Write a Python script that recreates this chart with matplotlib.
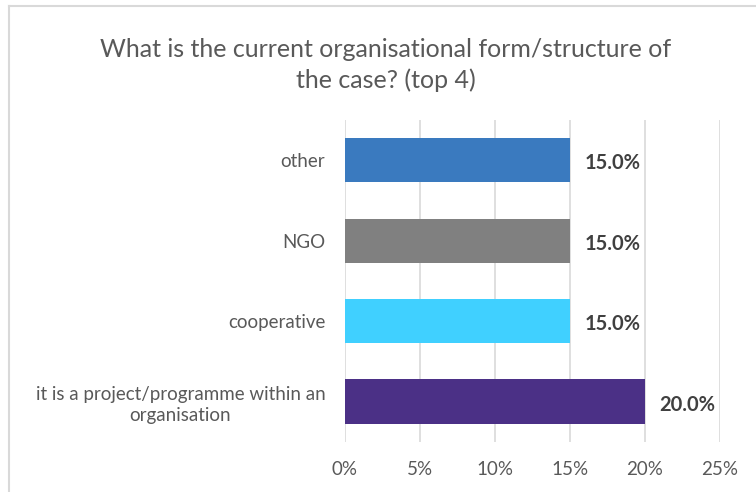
import matplotlib.pyplot as plt
from matplotlib.lines import Line2D
from matplotlib.ticker import FuncFormatter

plt.rcParams['font.family'] = ['Lato', 'DejaVu Sans']

# data, bottom-up as drawn
categories = ['it is a project/programme within an\norganisation', 'cooperative', 'NGO', 'other']
shares = [20.0, 15.0, 15.0, 15.0]
bar_colors = ['#4B3086', '#40D0FF', '#808080', '#3A7ABF']
x_ticks = [0, 5, 10, 15, 20, 25]

title_text = 'What is the current organisational form/structure of\nthe case? (top 4)'

fig = plt.figure(figsize=(7.56, 4.92), dpi=100)
ax = fig.add_axes([0.456, 0.102, 0.496, 0.654])

ypos = range(len(categories))
ax.barh(ypos, shares, height=0.55, color=bar_colors, zorder=3)

for y, v in zip(ypos, shares):
    ax.text(v + 1.0, y - 0.04, f'{v:.1f}%', va='center', ha='left',
            fontsize=14.5, fontweight='bold', color='#404040')

ax.set_xlim(0, 25)
ax.set_ylim(-0.5, len(categories) - 0.5)
ax.set_xticks(x_ticks)
ax.xaxis.set_major_formatter(FuncFormatter(lambda v, _: f'{v:.0f}%'))
ax.set_yticks(list(ypos))
ax.set_yticklabels(categories, multialignment='center', linespacing=1.3)
ax.tick_params(axis='both', length=0, labelsize=13.5, labelcolor='#595959')
ax.tick_params(axis='y', pad=14)
ax.tick_params(axis='x', pad=14)
ax.grid(axis='x', color='#D9D9D9', linewidth=1.2, zorder=0)
for s in ax.spines.values():
    s.set_visible(False)

fig.text(0.51, 0.868, title_text, ha='center', va='center', fontsize=18,
         color='#595959', linespacing=1.35)

# chart border (left and top visible)
fig.add_artist(Line2D([0.012, 0.012], [0.0, 0.988], color='#D9D9D9', linewidth=1.5,
                      transform=fig.transFigure))
fig.add_artist(Line2D([0.012, 1.0], [0.988, 0.988], color='#D9D9D9', linewidth=1.5,
                      transform=fig.transFigure))

fig.savefig('out.png', dpi=100)
